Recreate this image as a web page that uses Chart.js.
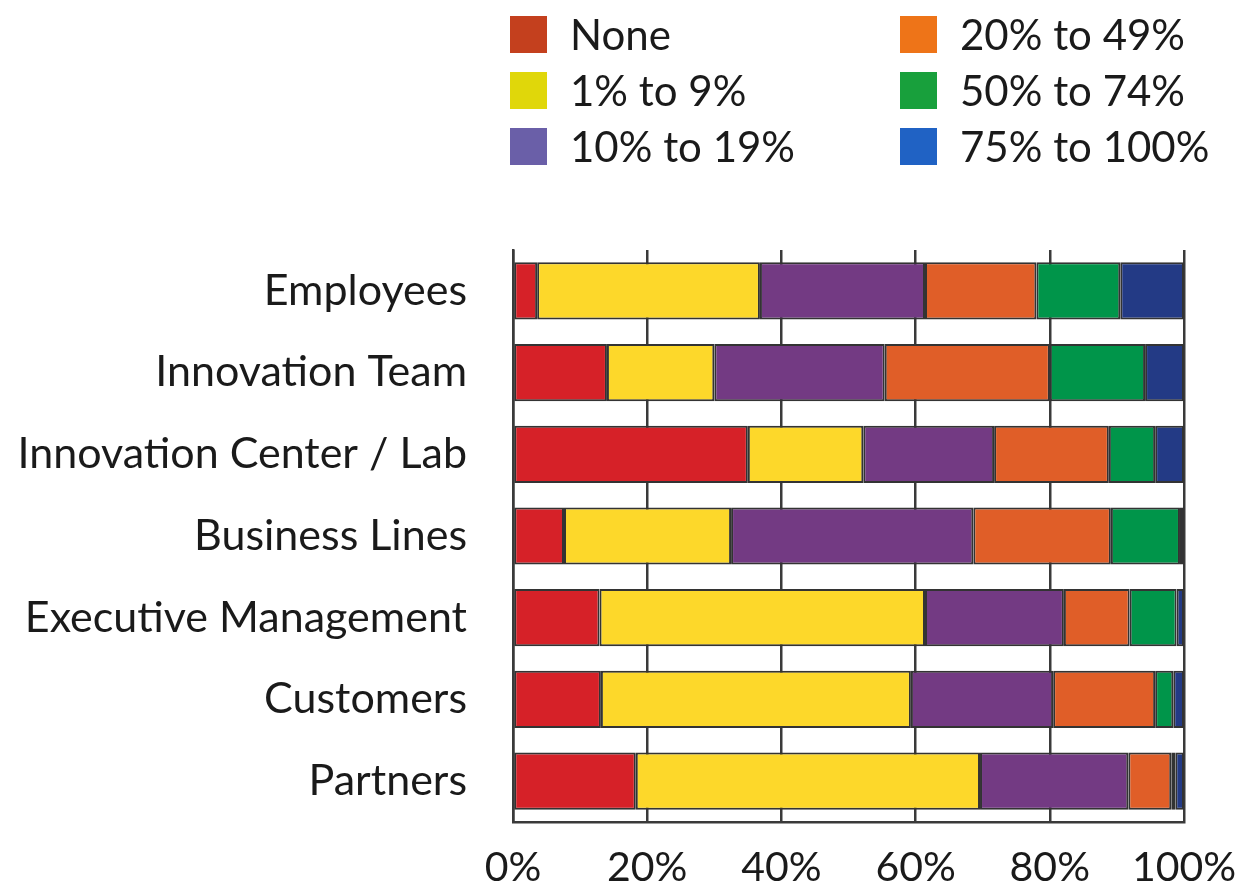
<!DOCTYPE html>
<html>
<head>
<meta charset="utf-8">
<script src="https://cdn.jsdelivr.net/npm/chart.js@4.4.1/dist/chart.umd.min.js"></script>
<style>
  html, body { margin: 0; padding: 0; background: #fff; }
  #wrap { position: relative; width: 1241px; height: 890px; }
  #legend { position: absolute; left: 510px; top: 12px; width: 731px; font-family: Lato, sans-serif; font-size: 42px; color: #1a1a1a; }
  .item { position: absolute; display: flex; align-items: center; height: 44px; white-space: nowrap; }
  .box { width: 37px; height: 37px; margin-right: 23px; }
</style>
</head>
<body>
<div id="wrap">
  <canvas id="chart" width="1241" height="890"></canvas>
  <div id="legend"></div>
</div>
<script>
// Share of each group by range
const categories = ['Employees', 'Innovation Team', 'Innovation Center / Lab', 'Business Lines',
  'Executive Management', 'Customers', 'Partners'];
const seriesNames = ['None', '1% to 9%', '10% to 19%', '20% to 49%', '50% to 74%', '75% to 100%'];

const none       = [3.6, 14.0, 35.0, 7.6, 12.9, 13.1, 18.3];
const pct1to9    = [33.2, 16.0, 17.2, 24.9, 48.5, 46.2, 51.3];
const pct10to19  = [24.6, 25.4, 19.5, 36.1, 20.7, 21.2, 22.1];
const pct20to49  = [16.6, 24.6, 17.1, 20.5, 9.8, 15.2, 6.4];
const pct50to74  = [12.5, 14.2, 6.9, 10.3, 7.0, 2.7, 0.6];
const pct75to100 = [9.5, 5.8, 4.3, 0.6, 1.1, 1.6, 1.3];

const xTicks = [0, 20, 40, 60, 80, 100];

// bar colours and the (slightly different) legend swatch colours
const barColors = ['#d62128', '#fdd82a', '#733a83', '#e05e28', '#00954a', '#233a85'];
const legendColors = ['#c4401e', '#e0d70a', '#6a5fa8', '#ee7418', '#18a03c', '#2062c4'];

const seriesValues = [none, pct1to9, pct10to19, pct20to49, pct50to74, pct75to100];

const ctx = document.getElementById('chart');

const chart = new Chart(ctx, {
  type: 'bar',
  data: {
    labels: categories,
    datasets: seriesNames.map((name, i) => ({
      label: name,
      data: seriesValues[i],
      backgroundColor: barColors[i],
      borderColor: '#333333',
      borderWidth: 2,
      borderSkipped: false,
      barPercentage: 0.7,
      categoryPercentage: 1.0
    }))
  },
  options: {
    indexAxis: 'y',
    responsive: false,
    animation: false,
    layout: {
      padding: { top: 250, right: 57, bottom: 0, left: 0 }
    },
    scales: {
      x: {
        stacked: true,
        min: 0,
        max: 100,
        afterBuildTicks: function(scale) {
          scale.ticks = xTicks.map(v => ({ value: v }));
        },
        afterFit: function(scale) {
          // let the 100% label hang over the right edge like the original
          scale.height = 68;
          scale.paddingLeft = 0;
          scale.paddingRight = 0;
        },
        grid: {
          color: '#3a3a3a',
          lineWidth: 2.5,
          drawTicks: false
        },
        border: { display: true, color: '#3a3a3a', width: 2.5 },
        ticks: {
          padding: 25,
          maxRotation: 0,
          color: '#1a1a1a',
          font: { family: 'Lato', size: 41, lineHeight: 1 },
          callback: v => v + '%'
        }
      },
      y: {
        stacked: true,
        grid: { display: false },
        border: { display: true, color: '#3a3a3a', width: 2.5 },
        afterFit: function(scale) {
          scale.width = 513;
        },
        ticks: {
          padding: 38,
          color: '#1a1a1a',
          font: { family: 'Lato', size: 43 }
        }
      }
    },
    plugins: {
      legend: { display: false },
      tooltip: { enabled: false }
    }
  }
});

// Legend in two columns, filled top to bottom
const legendEl = document.getElementById('legend');
seriesNames.forEach((name, i) => {
  const col = Math.floor(i / 3);
  const row = i % 3;
  const item = document.createElement('div');
  item.className = 'item';
  item.style.left = (col * 390) + 'px';
  item.style.top = (row * 56) + 'px';
  const box = document.createElement('span');
  box.className = 'box';
  box.style.background = legendColors[i];
  const text = document.createElement('span');
  text.textContent = name;
  item.appendChild(box);
  item.appendChild(text);
  legendEl.appendChild(item);
});
</script>
</body>
</html>
